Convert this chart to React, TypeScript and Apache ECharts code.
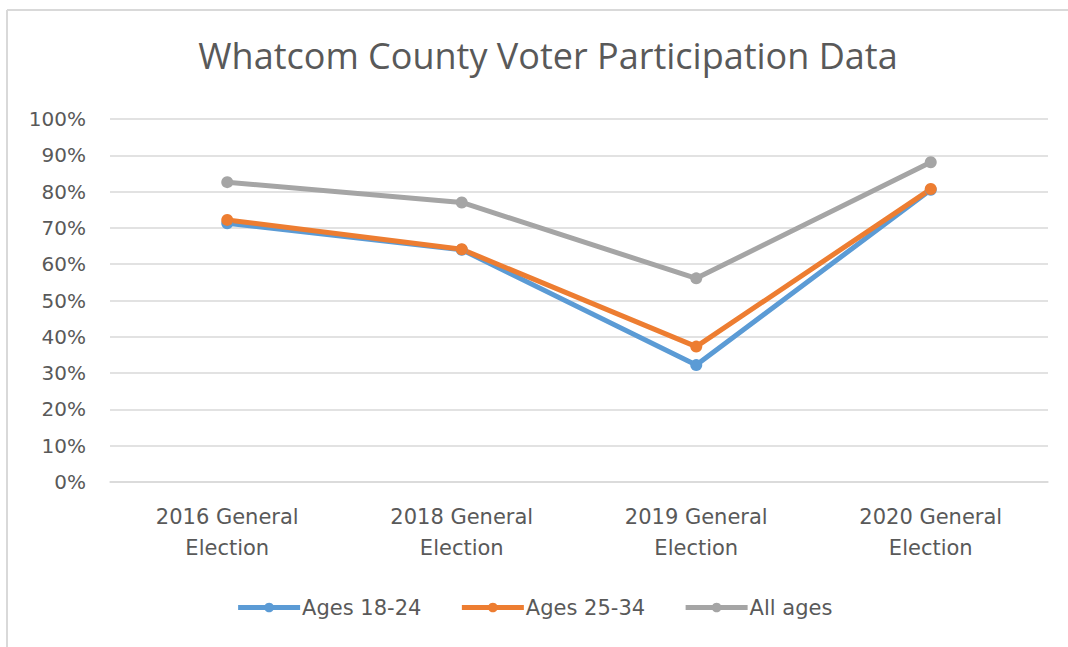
import React, { useEffect, useRef } from "react";
import * as echarts from "echarts";

const categories = ["2016 General\nElection", "2018 General\nElection", "2019 General\nElection", "2020 General\nElection"];
const ages18to24 = [71.3, 64.0, 32.2, 80.5];
const ages25to34 = [72.2, 64.1, 37.3, 80.7];
const allAges = [82.6, 77.0, 56.1, 88.1];
const seriesNames = ["Ages 18-24", "Ages 25-34", "All ages"];
const colors = ["#5B9BD5", "#ED7D31", "#A5A5A5"];

export default function App() {
  const ref = useRef<HTMLDivElement>(null);
  useEffect(() => {
    if (!ref.current) return;
    const chart = echarts.init(ref.current, undefined, { renderer: "svg" });
    const values = [ages18to24, ages25to34, allAges];
    chart.setOption({
      animation: false,
      backgroundColor: "#ffffff",
      title: {
        text: "Whatcom County Voter Participation Data",
        left: 543,
        textAlign: "center",
        top: 32,
        textStyle: { fontFamily: "Open Sans", fontSize: 36, fontWeight: "normal", color: "#595959" },
      },
      graphic: [
        { type: "line", shape: { x1: 7, y1: 10, x2: 1068, y2: 10 }, style: { stroke: "#d9d9d9", lineWidth: 2 } },
        { type: "line", shape: { x1: 7, y1: 10, x2: 7, y2: 647 }, style: { stroke: "#d9d9d9", lineWidth: 2 } },
      ],
      legend: {
        bottom: 24,
        left: "center",
        itemWidth: 62,
        itemHeight: 12,
        itemGap: 38,
        data: seriesNames,
        lineStyle: { width: 5 },
        textStyle: { fontFamily: "DejaVu Sans", fontSize: 21, color: "#595959", padding: [0, 0, 0, -3] },
      },
      grid: { left: 110, right: 20, top: 119, bottom: 165 },
      xAxis: {
        type: "category",
        data: categories,
        boundaryGap: true,
        axisLine: { lineStyle: { color: "#d9d9d9", width: 1.5 } },
        axisTick: { show: false },
        axisLabel: { fontFamily: "DejaVu Sans", fontSize: 21, color: "#595959", lineHeight: 31, margin: 19 },
      },
      yAxis: {
        type: "value",
        min: 0,
        max: 100,
        interval: 10,
        axisLine: { show: false },
        axisTick: { show: false },
        splitLine: { lineStyle: { color: "#d9d9d9", width: 1.5 } },
        axisLabel: { formatter: "{value}%", fontFamily: "DejaVu Sans", fontSize: 20, color: "#595959", margin: 24 },
      },
      series: seriesNames.map((name, i) => ({
        name,
        type: "line",
        data: values[i],
        symbol: "circle",
        symbolSize: 12,
        color: colors[i],
        lineStyle: { width: 5, color: colors[i] },
        itemStyle: { color: colors[i] },
      })),
    });
    return () => chart.dispose();
  }, []);
  return <div ref={ref} style={{ position: "fixed", left: 0, top: 0, width: 1068, height: 647 }} />;
}
